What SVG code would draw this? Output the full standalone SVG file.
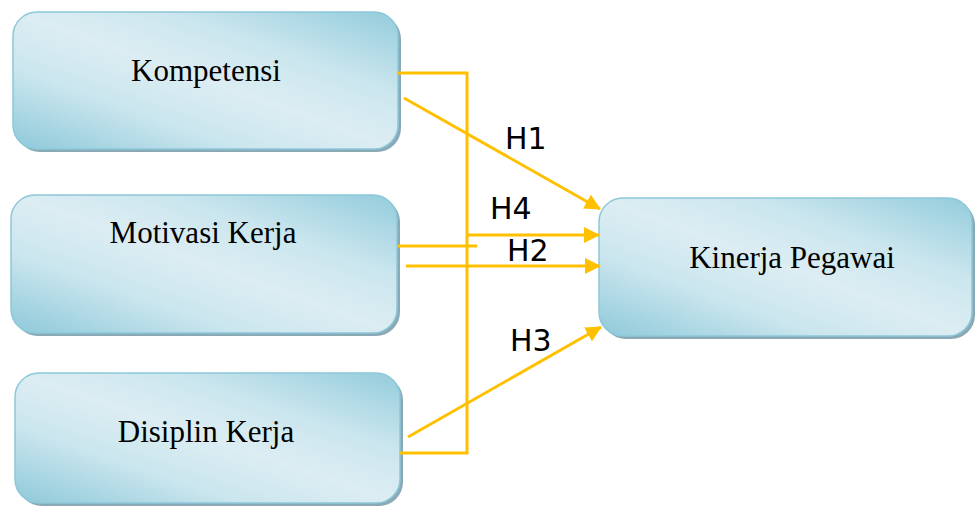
<svg xmlns="http://www.w3.org/2000/svg" width="975" height="509" viewBox="0 0 975 509">
<defs>
<linearGradient id="g" x1="0" y1="1" x2="1" y2="0">
<stop offset="0" stop-color="#8ec9da"/>
<stop offset="0.3" stop-color="#cbe6ee"/>
<stop offset="0.5" stop-color="#dcedf3"/>
<stop offset="0.7" stop-color="#cbe6ee"/>
<stop offset="1" stop-color="#93ccdc"/>
</linearGradient>
<marker id="ah" markerUnits="userSpaceOnUse" markerWidth="16" markerHeight="16" viewBox="0 0 16 16" refX="15" refY="8" orient="auto">
<path d="M0,0 L16,8 L0,16 Z" fill="#ffc000"/>
</marker>
</defs>
<style>
.sh{fill:#8aa9b6}
.bx{fill:url(#g);stroke:#8dc8d9;stroke-width:1.5}
.lb{font-family:"Liberation Serif","Times New Roman",serif;font-size:31px;fill:#000;text-anchor:middle}
.hl{font-family:"DejaVu Sans",Verdana,sans-serif;font-size:30px;fill:#000}
.cn{fill:none;stroke:#ffc000;stroke-width:3}
</style>
<g id="kompetensi">
<rect class="sh" x="16" y="15" width="385" height="137" rx="24"/>
<rect class="bx" x="13" y="12" width="385" height="137" rx="24"/>
<text class="lb" x="206" y="81">Kompetensi</text>
</g>
<g id="motivasi">
<rect class="sh" x="14" y="198" width="386" height="138" rx="24"/>
<rect class="bx" x="11" y="195" width="386" height="138" rx="24"/>
<text class="lb" x="203" y="243">Motivasi Kerja</text>
</g>
<g id="disiplin">
<rect class="sh" x="18" y="376" width="385" height="130" rx="24"/>
<rect class="bx" x="15" y="373" width="385" height="130" rx="24"/>
<text class="lb" x="206" y="442">Disiplin Kerja</text>
</g>
<g id="kinerja">
<rect class="sh" x="602" y="201" width="373" height="138" rx="24"/>
<rect class="bx" x="599" y="198" width="373" height="138" rx="24"/>
<text class="lb" x="792" y="268">Kinerja Pegawai</text>
</g>
<g id="connectors">
<polyline class="cn" points="398,73 467,73 467,453 400,453"/>
<line class="cn" x1="397" y1="246" x2="477" y2="246"/>
<line class="cn" x1="467" y1="235" x2="599" y2="235" marker-end="url(#ah)"/>
<line class="cn" x1="406" y1="266" x2="600" y2="266" marker-end="url(#ah)"/>
<line class="cn" x1="404" y1="98" x2="600" y2="209" marker-end="url(#ah)"/>
<line class="cn" x1="408" y1="437" x2="601" y2="327" marker-end="url(#ah)"/>
<text class="hl" x="505" y="149">H1</text>
<text class="hl" x="490" y="219">H4</text>
<text class="hl" x="507" y="261">H2</text>
<text class="hl" x="510" y="351">H3</text>
</g>
</svg>
